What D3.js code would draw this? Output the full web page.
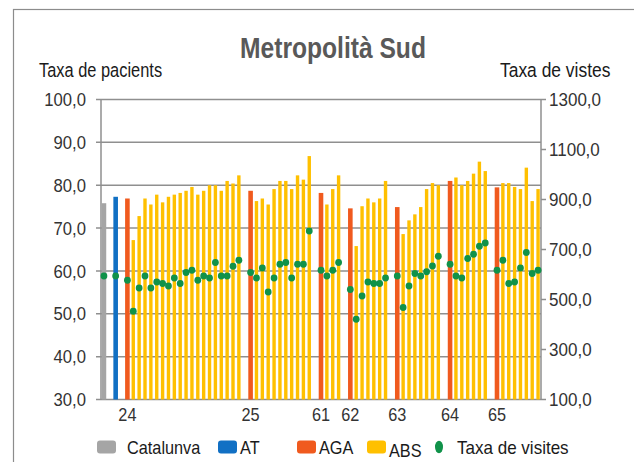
<!DOCTYPE html>
<html><head><meta charset="utf-8">
<script src="https://cdn.jsdelivr.net/npm/d3@7"></script>
<style>body{margin:0;background:#fff}svg{display:block}text{font-family:"Liberation Sans",Arial,sans-serif}</style>
</head><body>
<script>
// ---- data ----
const types = ["CAT",null,"AT",null,"AGA",
 "ABS","ABS","ABS","ABS","ABS","ABS","ABS","ABS","ABS","ABS","ABS","ABS","ABS","ABS","ABS","ABS","ABS","ABS","ABS",null,
 "AGA","ABS","ABS","ABS","ABS","ABS","ABS","ABS","ABS","ABS","ABS",null,
 "AGA","ABS","ABS","ABS",null,
 "AGA","ABS","ABS","ABS","ABS","ABS","ABS",null,
 "AGA","ABS","ABS","ABS","ABS","ABS","ABS","ABS",null,
 "AGA","ABS","ABS","ABS","ABS","ABS","ABS",null,
 "AGA","ABS","ABS","ABS","ABS","ABS","ABS","ABS"];
const xLabels = ["","","","","24","","","","","","","","","","","","","","","","","","","","",
 "25","","","","","","","","","","","",
 "61","","","","",
 "62","","","","","","","",
 "63","","","","","","","","",
 "64","","","","","","","",
 "65","","","","","","",""];
const pacients = [75.8,null,77.3,null,76.9,
 67.2,72.8,76.9,75.5,77.8,76.0,77.3,77.8,78.2,78.7,79.6,77.8,78.7,80.0,80.0,78.7,81.0,80.4,82.3,null,
 78.7,76.3,76.9,75.5,79.1,81.0,81.0,79.1,82.3,81.3,86.8,null,
 78.2,75.5,79.1,82.3,null,
 74.6,65.8,75.1,76.9,76.0,76.9,81.0,null,
 74.9,68.6,71.8,73.2,74.9,79.1,80.5,80.0,null,
 81.0,81.8,80.0,81.0,82.7,85.5,83.3,null,
 79.5,80.5,80.5,79.6,79.1,84.1,76.3,79.1];
const visites = [594,null,594,null,577,
 453,546,594,546,570,564,554,586,564,608,617,577,594,586,648,594,594,633,657,null,
 608,586,626,530,586,641,648,586,641,641,774,null,
 617,594,617,648,null,
 540,421,514,570,564,564,586,null,
 594,468,554,604,594,611,634,673,null,
 641,594,586,664,681,713,726,null,
 617,657,564,570,626,688,604,617];
const leftTicks = [30,40,50,60,70,80,90,100];
const rightTicks = [100,300,500,700,900,1100,1300];
const legendItems = [
 {key:"CAT",label:"Catalunva",x:97},
 {key:"AT",label:"AT",x:218},
 {key:"AGA",label:"AGA",x:297},
 {key:"ABS",label:"ABS",x:367},
 {key:"VIS",label:"Taxa de visites",x:435}];
const colors = {CAT:"#a5a5a5",AT:"#1170c4",AGA:"#f05a1e",ABS:"#ffc000",VIS:"#10924a"};

// ---- chart ----
const W=634,H=462;
const svg=d3.select("body").append("svg").attr("width",W).attr("height",H);
const narrow=(sel,f=0.82)=>sel.each(function(){const l=this.getComputedTextLength();d3.select(this).attr("textLength",l*f).attr("lengthAdjust","spacingAndGlyphs");});

svg.append("rect").attr("x",13.5).attr("y",9.5).attr("width",700).attr("height",500)
  .attr("fill","#fff").attr("stroke","#8c8c8c").attr("stroke-width",1.2);

const L=101,R=541,T=99.5,B=399.5;
const x=d3.scaleBand().domain(d3.range(types.length)).range([L,R]).padding(0);
const yL=d3.scaleLinear().domain([30,100]).range([B,T]);
const yR=d3.scaleLinear().domain([100,1300]).range([B,T]);

// gridlines
svg.append("g").selectAll("line").data(leftTicks).join("line")
  .attr("x1",L-5).attr("x2",R).attr("y1",d=>yL(d)).attr("y2",d=>yL(d))
  .attr("stroke","#8f8f8f").attr("stroke-width",1.5);
svg.append("line").attr("x1",L).attr("x2",L).attr("y1",T).attr("y2",B).attr("stroke","#8f8f8f").attr("stroke-width",1.5);
svg.append("line").attr("x1",R).attr("x2",R).attr("y1",T).attr("y2",B).attr("stroke","#8f8f8f").attr("stroke-width",1.5);
svg.append("g").selectAll("line").data(rightTicks).join("line")
  .attr("x1",R).attr("x2",R+5).attr("y1",d=>yR(d)).attr("y2",d=>yR(d))
  .attr("stroke","#8f8f8f").attr("stroke-width",1.5);

// bars
const idx=d3.range(types.length).filter(i=>types[i]&&pacients[i]!=null);
svg.append("g").selectAll("rect").data(idx).join("rect")
  .attr("x",i=>{const w=types[i]==="ABS"?3.4:4.6;return x(i)+x.bandwidth()/2-w/2;})
  .attr("width",i=>types[i]==="ABS"?3.4:4.6)
  .attr("y",i=>yL(pacients[i])).attr("height",i=>B-yL(pacients[i]))
  .attr("fill",i=>colors[types[i]]);

// dots
const didx=d3.range(types.length).filter(i=>visites[i]!=null);
svg.append("g").selectAll("circle").data(didx).join("circle")
  .attr("cx",i=>x(i)+x.bandwidth()/2).attr("cy",i=>yR(visites[i])).attr("r",3.4)
  .attr("fill",colors.VIS);

// tick labels
const fs=18.5, tc="#333";
svg.append("g").selectAll("text").data(leftTicks).join("text")
  .attr("x",86).attr("y",d=>yL(d)+6.6).attr("text-anchor","end")
  .attr("font-size",fs).attr("fill",tc).text(d=>d3.format(".1f")(d).replace(".",","))
  .call(narrow,0.9);
svg.append("g").selectAll("text").data(rightTicks).join("text")
  .attr("x",549).attr("y",d=>yR(d)+6.6).attr("text-anchor","start")
  .attr("font-size",fs).attr("fill",tc).text(d=>d3.format(".1f")(d).replace(".",","))
  .call(narrow,0.92);
svg.append("g").selectAll("text").data(d3.range(types.length).filter(i=>xLabels[i])).join("text")
  .attr("x",i=>x(i)+x.bandwidth()/2).attr("y",421).attr("text-anchor","middle")
  .attr("font-size",fs).attr("fill",tc).text(i=>xLabels[i]).call(narrow,0.88);

// titles
svg.append("text").attr("x",333).attr("y",57.5).attr("text-anchor","middle")
  .attr("font-size",30).attr("font-weight","bold").attr("fill","#595959").text("Metropolità Sud").call(narrow);
svg.append("text").attr("x",39).attr("y",76.5).attr("font-size",20.5).attr("fill","#1a1a1a")
  .text("Taxa de pacients").call(narrow,0.8);
svg.append("text").attr("x",500).attr("y",76.5).attr("font-size",20.5).attr("fill","#1a1a1a")
  .text("Taxa de vistes").call(narrow,0.85);

// legend
const lg=svg.append("g");
legendItems.forEach(it=>{
  if(it.key==="VIS"){
    lg.append("ellipse").attr("cx",it.x+4).attr("cy",447).attr("rx",4).attr("ry",6.2).attr("fill",colors.VIS);
    lg.append("text").attr("x",it.x+22).attr("y",453.5).attr("font-size",fs).attr("fill","#1a1a1a").text(it.label).call(narrow,0.92);
  } else {
    lg.append("rect").attr("x",it.x).attr("y",440.5).attr("width",19).attr("height",13).attr("rx",3).attr("fill",colors[it.key]);
    lg.append("text").attr("x",it.x+(it.key==="CAT"?30:22)).attr("y",it.key==="ABS"?456.5:453.5)
      .attr("font-size",fs).attr("fill","#1a1a1a").text(it.label).call(narrow,0.88);
  }
});
</script>
</body></html>
